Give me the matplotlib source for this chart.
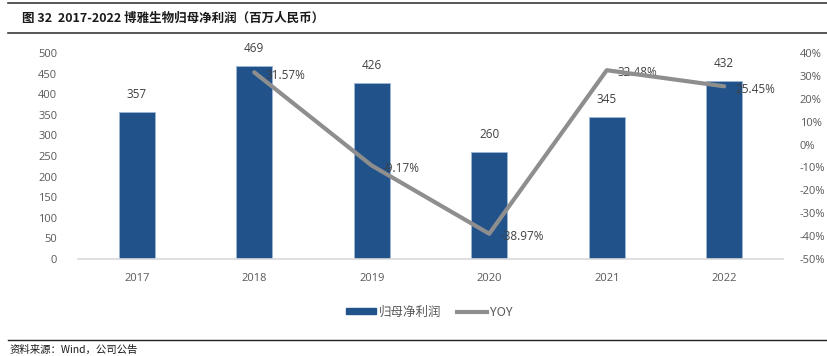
import matplotlib
matplotlib.use("Agg")
import matplotlib.pyplot as plt
from matplotlib.lines import Line2D
from matplotlib.patches import Patch

plt.rcParams['font.family'] = ['Noto Sans CJK SC', 'DejaVu Sans']

years = ['2017', '2018', '2019', '2020', '2021', '2022']
profit = [357, 469, 426, 260, 345, 432]
yoy_years = ['2018', '2019', '2020', '2021', '2022']
yoy = [31.57, -9.17, -38.97, 32.48, 25.45]
yoy_labels = ['31.57%', '-9.17%', '-38.97%', '32.48%', '25.45%']
left_ticks = [0, 50, 100, 150, 200, 250, 300, 350, 400, 450, 500]
right_ticks = [-50, -40, -30, -20, -10, 0, 10, 20, 30, 40]

W, H = 827, 356
fig = plt.figure(figsize=(W / 100, H / 100), dpi=100)

bar_color = '#22528A'
line_color = '#8E8E8E'
txt_color = '#595959'
lab_color = '#404040'
num_font = ['Open Sans', 'DejaVu Sans']

ax = fig.add_axes([78 / W, 1 - 259 / H, (783 - 78) / W, (259 - 53) / H])
x = list(range(len(years)))
ax.bar(x, profit, width=0.31, color=bar_color, edgecolor='#9DB7D8', linewidth=0.6, zorder=2)
ax.set_xlim(-0.5, len(years) - 0.5)
ax.set_ylim(0, 500)
ax.set_yticks(left_ticks)
ax.set_yticklabels([str(t) for t in left_ticks], fontsize=8, color=txt_color, family=num_font)
ax.set_xticks(x)
ax.set_xticklabels(years, fontsize=8, color=txt_color, family=num_font)
ax.tick_params(axis='x', length=0, pad=10)
ax.tick_params(axis='y', length=0, pad=15)
for s in ['top', 'right', 'left']:
    ax.spines[s].set_visible(False)
ax.spines['bottom'].set_color('#D9D9D9')
ax.spines['bottom'].set_linewidth(1.2)
for xi, v in zip(x, profit):
    ax.annotate(str(v), (xi, v), xytext=(0, 8), textcoords='offset points',
                ha='center', va='bottom', fontsize=8.5, color=lab_color, family=num_font)

ax2 = ax.twinx()
ax2.set_ylim(-50, 40)
ax2.set_yticks(right_ticks)
ax2.set_yticklabels([f'{t}%' for t in right_ticks], fontsize=8, color=txt_color, family=num_font)
ax2.tick_params(axis='y', length=0, pad=12)
for s in ['top', 'right', 'left', 'bottom']:
    ax2.spines[s].set_visible(False)
yx = [years.index(y) for y in yoy_years]
ax2.plot(yx, yoy, color=line_color, linewidth=3, solid_capstyle='round', solid_joinstyle='round', zorder=3)
for xi, v, lb in zip(yx, yoy, yoy_labels):
    ax2.annotate(lb, (xi, v), xytext=(8, -2), textcoords='offset points',
                 ha='left', va='center', fontsize=8.5, color=lab_color, family=num_font, zorder=1)

# legend
handles = [Patch(facecolor=bar_color, edgecolor=bar_color),
           Line2D([0], [0], color=line_color, linewidth=3)]
leg = fig.legend(handles, ['归母净利润', 'YOY'], loc='center', bbox_to_anchor=(429 / W, 1 - 312 / H),
                 ncol=2, frameon=False, fontsize=9, handlelength=2.4, handleheight=0.45,
                 columnspacing=1.2, handletextpad=0.25)
for t in leg.get_texts():
    t.set_color(txt_color)

# title and rules
fig.add_artist(Line2D([8 / W, 1], [1 - 3 / H, 1 - 3 / H], color='#3A3A3A', linewidth=1.2))
fig.add_artist(Line2D([8 / W, 1], [1 - 33 / H, 1 - 33 / H], color='#3A3A3A', linewidth=1.2))
fig.text(22 / W, 1 - 18 / H, '图 32  2017-2022 博雅生物归母净利润（百万人民币）', fontsize=9,
         fontweight='bold', color='#1A1A1A', va='center', ha='left')
fig.add_artist(Line2D([8 / W, 1], [1 - 340 / H, 1 - 340 / H], color='#222222', linewidth=1.0))
fig.text(10 / W, 1 - 350 / H, '资料来源：Wind，公司公告', fontsize=7.5, color='#1A1A1A',
         va='center', ha='left')

fig.savefig('out.png', dpi=100)
